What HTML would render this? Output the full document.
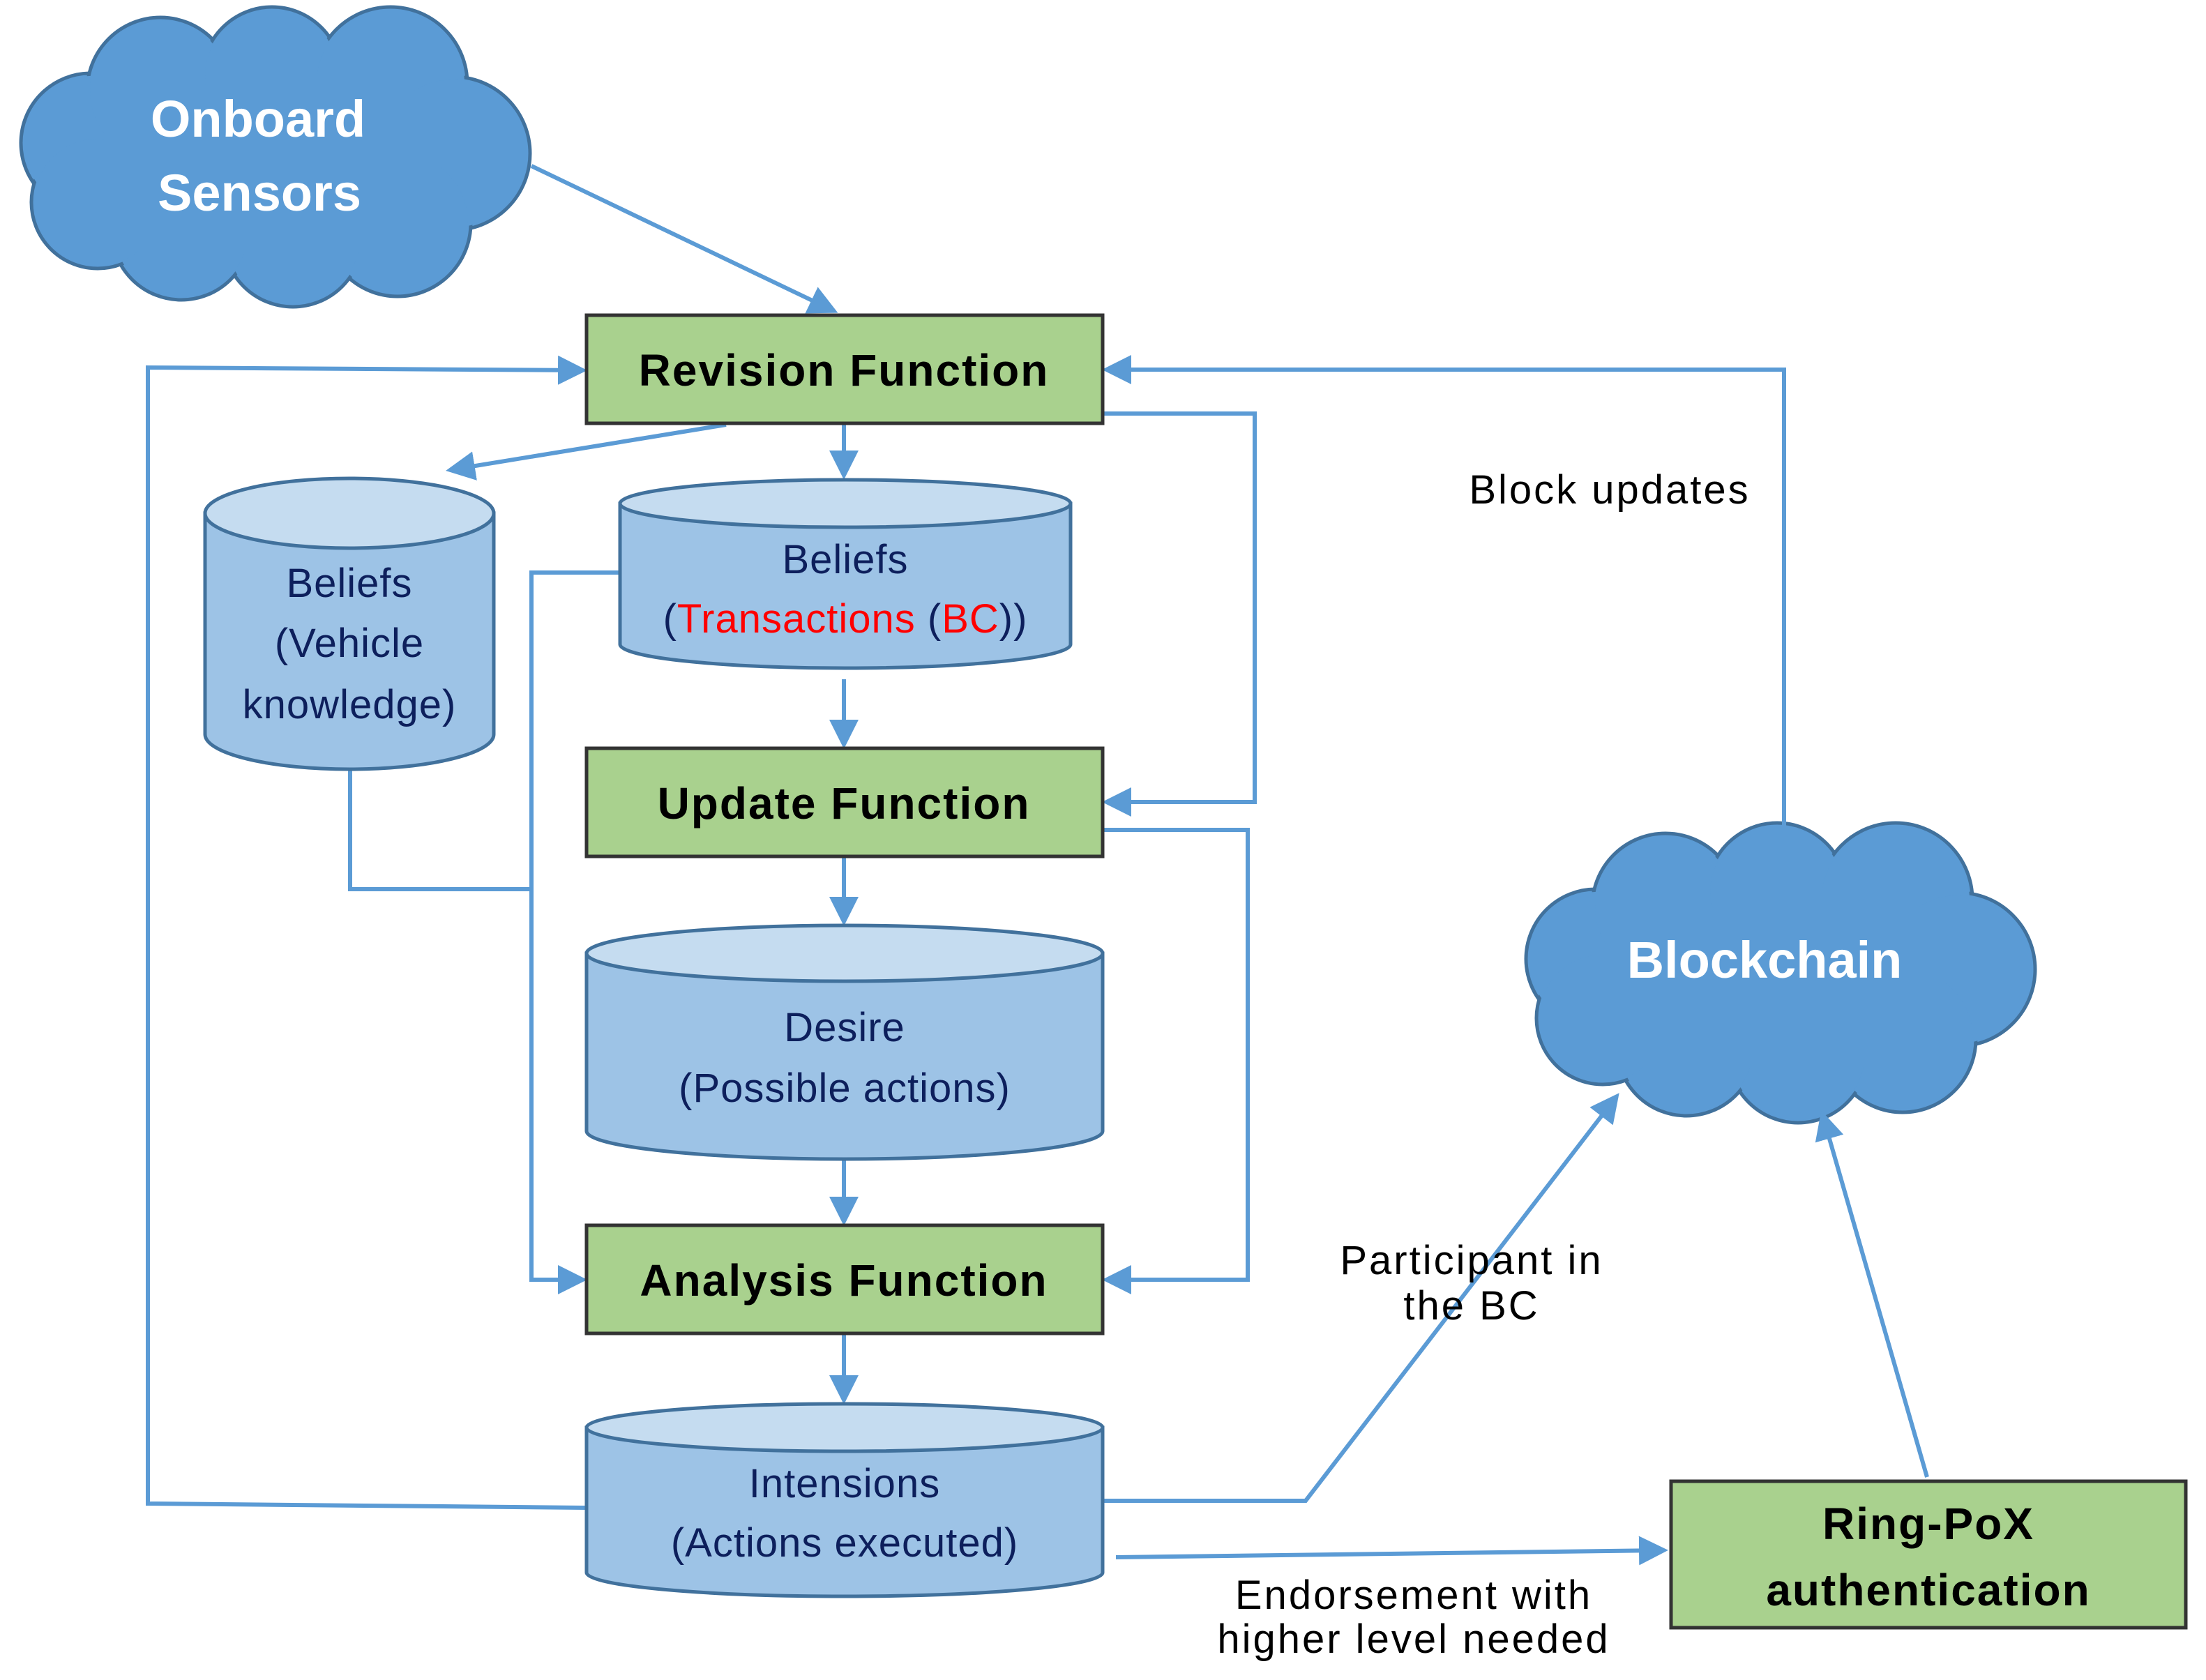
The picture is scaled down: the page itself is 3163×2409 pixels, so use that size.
<!DOCTYPE html>
<html><head><meta charset="utf-8"><style>
html,body{margin:0;padding:0;background:#fff}
svg{display:block}
text{font-family:"Liberation Sans",sans-serif}
</style></head><body>
<svg width="3163" height="2409" viewBox="0 0 3163 2409" xmlns="http://www.w3.org/2000/svg">
<defs>
<marker id="a" markerWidth="7" markerHeight="7" refX="6" refY="3.5" orient="auto" markerUnits="strokeWidth">
<path d="M0,0 L7,3.5 L0,7 Z" fill="#5b9bd5"/></marker>
</defs>
<g id="cloud1">
<g fill="#5b9bd5" stroke="#41719c" stroke-width="5">
<circle cx="130" cy="205" r="100"/><circle cx="230" cy="130" r="105"/><circle cx="390" cy="110" r="100"/><circle cx="560" cy="120" r="110"/><circle cx="650" cy="220" r="110"/><circle cx="570" cy="320" r="105"/><circle cx="420" cy="340" r="100"/><circle cx="260" cy="330" r="100"/><circle cx="140" cy="290" r="95"/>
</g>
<g fill="#5b9bd5">
<circle cx="130" cy="205" r="96"/><circle cx="230" cy="130" r="101"/><circle cx="390" cy="110" r="96"/><circle cx="560" cy="120" r="106"/><circle cx="650" cy="220" r="106"/><circle cx="570" cy="320" r="101"/><circle cx="420" cy="340" r="96"/><circle cx="260" cy="330" r="96"/><circle cx="140" cy="290" r="91"/><rect x="150" y="130" width="480" height="230"/>
</g>
</g>
<use href="#cloud1" transform="translate(2158,1170)"/>
<text x="370" y="196" font-size="74" font-weight="bold" fill="#fff" text-anchor="middle">Onboard</text>
<text x="372" y="302" font-size="74" font-weight="bold" fill="#fff" text-anchor="middle">Sensors</text>
<text x="2530" y="1402" font-size="74" font-weight="bold" fill="#fff" text-anchor="middle">Blockchain</text>

<g fill="none" stroke="#5b9bd5" stroke-width="6">
<path d="M762,238 L1196,446" marker-end="url(#a)"/>
<path d="M841,2162 L212,2156 L212,527 L836,531" marker-end="url(#a)"/>
<path d="M1041,609 L645,674" marker-end="url(#a)"/>
<path d="M1210,607 L1210,682" marker-end="url(#a)"/>
<path d="M1581,593 L1799,593 L1799,1150 L1586,1150" marker-end="url(#a)"/>
<path d="M2558,1190 L2558,530 L1586,530" marker-end="url(#a)"/>
<path d="M1210,974 L1210,1068" marker-end="url(#a)"/>
<path d="M1210,1228 L1210,1322" marker-end="url(#a)"/>
<path d="M1210,1662 L1210,1752" marker-end="url(#a)"/>
<path d="M1210,1912 L1210,2008" marker-end="url(#a)"/>
<path d="M1581,1190 L1789,1190 L1789,1835 L1586,1835" marker-end="url(#a)"/>
<path d="M889,821 L762,821 L762,1835 L836,1835" marker-end="url(#a)"/>
<path d="M502,1103 L502,1275 L762,1275"/>
<path d="M1581,2152 L1872,2152 L2318,1572" marker-end="url(#a)"/>
<path d="M1600,2233 L2386,2223" marker-end="url(#a)"/>
<path d="M2763,2118 L2613,1598" marker-end="url(#a)"/>
</g>

<g fill="#a9d18e" stroke="#333" stroke-width="5">
<rect x="841" y="452" width="740" height="155"/>
<rect x="841" y="1073" width="740" height="155"/>
<rect x="841" y="1757" width="740" height="155"/>
<rect x="2396" y="2124" width="738" height="210"/>
</g>
<g font-size="64" font-weight="bold" fill="#000" text-anchor="middle" letter-spacing="2">
<text x="1210" y="553">Revision Function</text>
<text x="1210" y="1174">Update Function</text>
<text x="1210" y="1858">Analysis Function</text>
<text x="2765" y="2207">Ring-PoX</text>
<text x="2765" y="2302">authentication</text>
</g>

<g stroke="#41719c" stroke-width="5">
<path d="M294,736 L294,1053 A207,50 0 0 0 708,1053 L708,736 Z" fill="#9dc3e6"/>
<ellipse cx="501" cy="736" rx="207" ry="50" fill="#c5dcf0"/>
<path d="M889,722 L889,924 A323,34 0 0 0 1535,924 L1535,722 Z" fill="#9dc3e6"/>
<ellipse cx="1212" cy="722" rx="323" ry="34" fill="#c5dcf0"/>
<path d="M841,1367 L841,1622 A370,40 0 0 0 1581,1622 L1581,1367 Z" fill="#9dc3e6"/>
<ellipse cx="1211" cy="1367" rx="370" ry="40" fill="#c5dcf0"/>
<path d="M841,2047 L841,2255 A370,34 0 0 0 1581,2255 L1581,2047 Z" fill="#9dc3e6"/>
<ellipse cx="1211" cy="2047" rx="370" ry="34" fill="#c5dcf0"/>
</g>
<g font-size="58" fill="#0d1f5c" text-anchor="middle" letter-spacing="1">
<text x="501" y="856">Beliefs</text>
<text x="501" y="942">(Vehicle</text>
<text x="501" y="1030">knowledge)</text>
<text x="1212" y="822">Beliefs</text>
<text x="1212" y="907">(<tspan fill="#ff0000">Transactions</tspan> (<tspan fill="#ff0000">BC</tspan>))</text>
<text x="1211" y="1493">Desire</text>
<text x="1211" y="1580">(Possible actions)</text>
<text x="1211" y="2147">Intensions</text>
<text x="1211" y="2232">(Actions executed)</text>
</g>

<g font-size="58" fill="#000" text-anchor="middle" letter-spacing="3">
<text x="2308" y="722">Block updates</text>
<text x="2110" y="1827">Participant in</text>
<text x="2110" y="1892">the BC</text>
<text x="2027" y="2307">Endorsement with</text>
<text x="2027" y="2370">higher level needed</text>
</g>
</svg>
</body></html>
